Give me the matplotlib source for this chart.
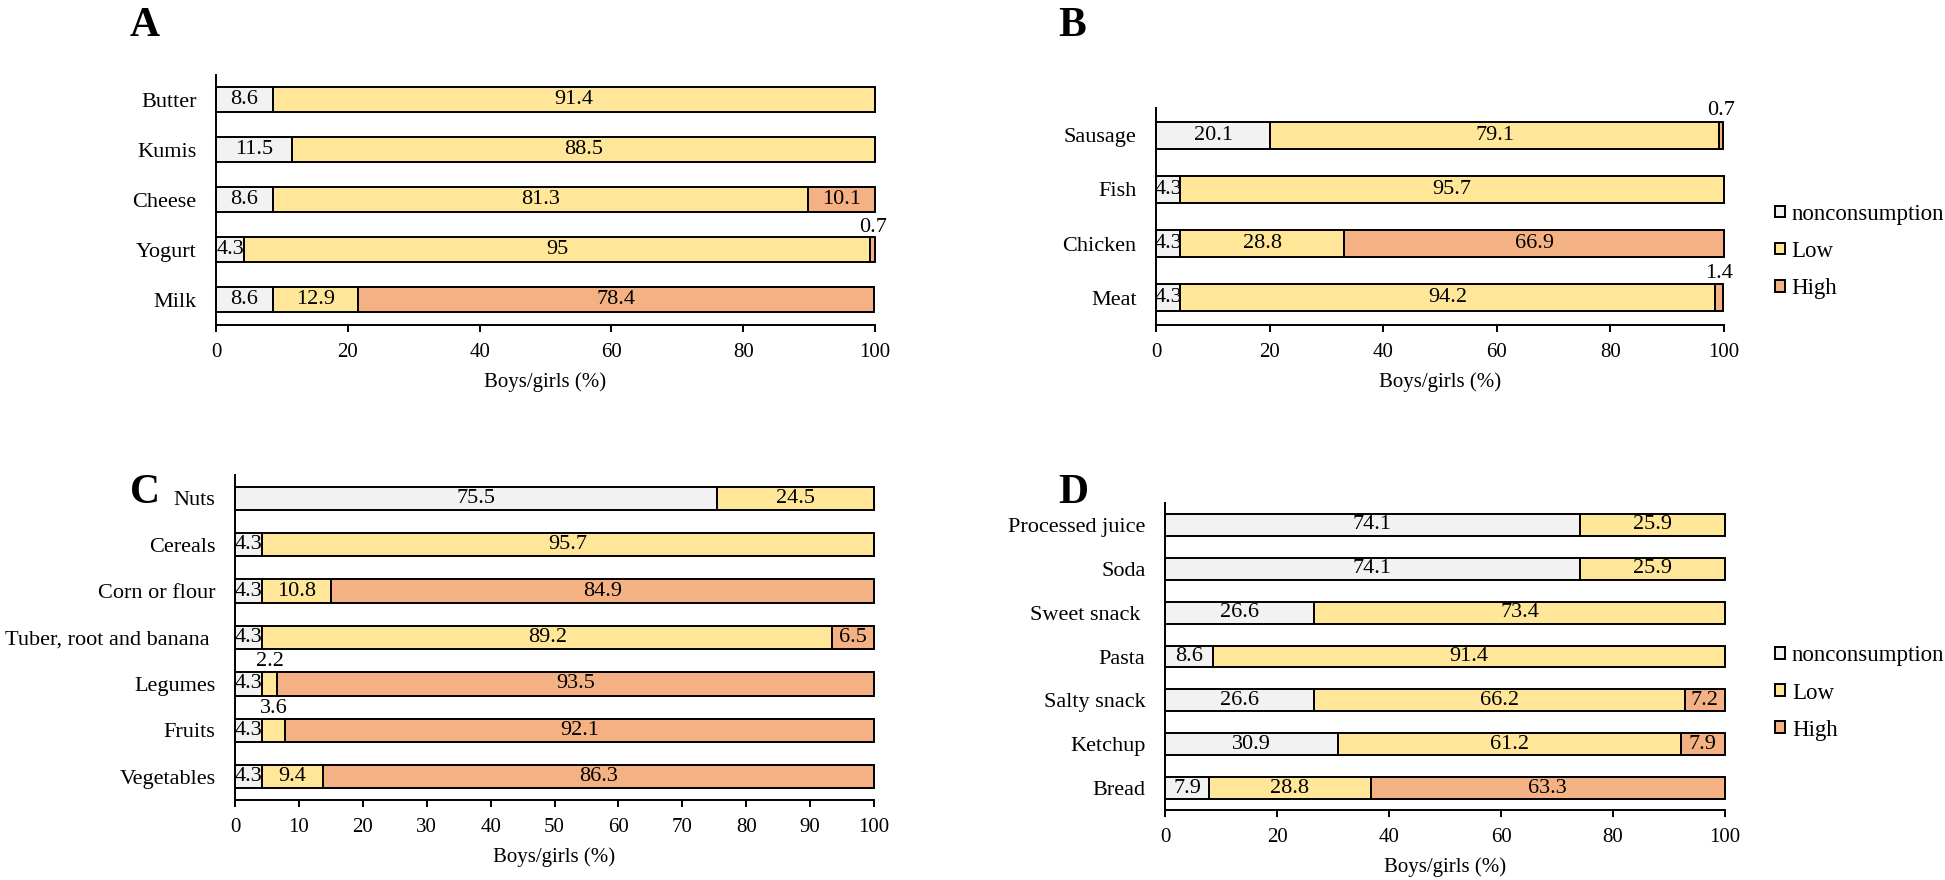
import matplotlib
matplotlib.use("Agg")
import matplotlib.pyplot as plt
from matplotlib.patches import Patch

plt.rcParams['font.family'] = ['Liberation Serif', 'DejaVu Serif']

levels = ["nonconsumption", "Low", "High"]
level_colors = ["#F2F2F2", "#FFE699", "#F4B183"]

# A - dairy
a_foods = ["Butter", "Kumis", "Cheese", "Yogurt", "Milk"]
a_none = [8.6, 11.5, 8.6, 4.3, 8.6]
a_low = [91.4, 88.5, 81.3, 95, 12.9]
a_high = [0, 0, 10.1, 0.7, 78.4]

# B - meats
b_foods = ["Sausage", "Fish", "Chicken", "Meat"]
b_none = [20.1, 4.3, 4.3, 4.3]
b_low = [79.1, 95.7, 28.8, 94.2]
b_high = [0.7, 0, 66.9, 1.4]

# C - plant foods
c_foods = ["Nuts", "Cereals", "Corn or flour", "Tuber, root and banana ",
           "Legumes", "Fruits", "Vegetables"]
c_none = [75.5, 4.3, 4.3, 4.3, 4.3, 4.3, 4.3]
c_low = [24.5, 95.7, 10.8, 89.2, 2.2, 3.6, 9.4]
c_high = [0, 0, 84.9, 6.5, 93.5, 92.1, 86.3]

# D - processed foods
d_foods = ["Processed juice", "Soda", "Sweet snack ", "Pasta",
           "Salty snack", "Ketchup", "Bread"]
d_none = [74.1, 74.1, 26.6, 8.6, 26.6, 30.9, 7.9]
d_low = [25.9, 25.9, 73.4, 91.4, 66.2, 61.2, 28.8]
d_high = [0, 0, 0, 0, 7.2, 7.9, 63.3]

FS = 16      # category and value labels
TFS = 15     # tick labels / axis label
LW = 1.4
BAR_H = 0.5


def draw_panel(ax, foods, none, low, high, xticks):
    n = len(foods)
    ypos = [n - 1 - i for i in range(n)]
    left = [0] * n
    for vals, col in zip([none, low, high], level_colors):
        ax.barh(ypos, vals, left=left, height=BAR_H, color=col,
                edgecolor="black", linewidth=LW, clip_on=False)
        for y, v, l in zip(ypos, vals, left):
            if v <= 0:
                continue
            if v >= 4:
                ax.text(l + v / 2, y, f"{v:g}", ha="center", va="center",
                        fontsize=FS, clip_on=True)
            else:
                # small segments get their label just above the bar
                ax.text(l + v / 2, y + BAR_H / 2 + 0.02, f"{v:g}",
                        ha="center", va="bottom", fontsize=FS)
        left = [a + b for a, b in zip(left, vals)]
    ax.set_yticks(ypos)
    ax.set_yticklabels(foods, fontsize=FS)
    ax.set_xlim(0, 100)
    ax.set_ylim(-0.5, n - 0.5)
    ax.set_xticks(xticks)
    ax.tick_params(axis="x", labelsize=TFS, length=5, width=LW, pad=8)
    ax.tick_params(axis="y", length=0, pad=14)
    ax.set_xlabel("Boys/girls (%)", fontsize=TFS, labelpad=7)
    for s in ["top", "right"]:
        ax.spines[s].set_visible(False)
    for s in ["left", "bottom"]:
        ax.spines[s].set_linewidth(LW)


def add_legend(ax, y_anchor):
    handles = [Patch(facecolor=c, edgecolor="black", linewidth=LW)
               for c in level_colors]
    ax.legend(handles, levels, loc="center left", bbox_to_anchor=(1.09, y_anchor),
              frameon=False, fontsize=16.5, handlelength=0.42, handleheight=0.42,
              handletextpad=0.3, labelspacing=0.7, borderpad=0, borderaxespad=0)


fig = plt.figure(figsize=(19.45, 8.8), dpi=100)
W, H = 1945, 880


def place(l, r, t, b):
    return fig.add_axes([l / W, (H - b) / H, (r - l) / W, (b - t) / H])


ax_a = place(216, 875, 75, 325)
ax_b = place(1156, 1724, 108, 325)
ax_c = place(235, 874, 475, 800)
ax_d = place(1165, 1725, 503, 810)

draw_panel(ax_a, a_foods, a_none, a_low, a_high, range(0, 101, 20))
draw_panel(ax_b, b_foods, b_none, b_low, b_high, range(0, 101, 20))
draw_panel(ax_c, c_foods, c_none, c_low, c_high, range(0, 101, 10))
draw_panel(ax_d, d_foods, d_none, d_low, d_high, range(0, 101, 20))

add_legend(ax_b, 0.34)
add_legend(ax_d, 0.381)

for letter, x, y in [("A", 130, 7), ("B", 1058, 7), ("C", 130, 474), ("D", 1058, 474)]:
    fig.text(x / W, 1 - y / H, letter, fontsize=30, fontweight="bold",
             ha="left", va="top")

fig.savefig("out.png", dpi=100)
